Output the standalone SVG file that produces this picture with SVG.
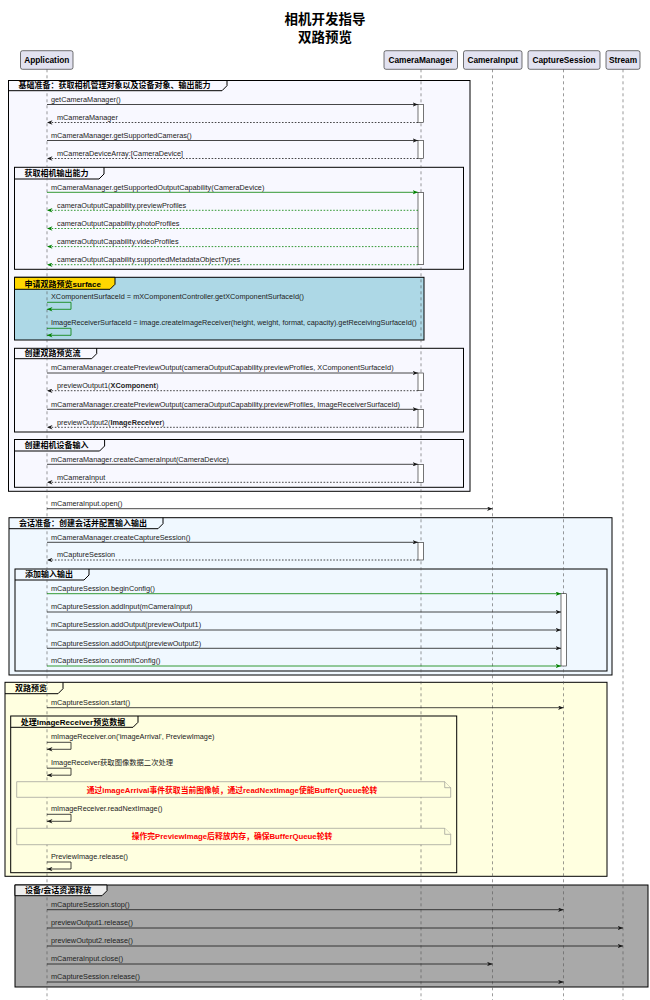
<svg xmlns="http://www.w3.org/2000/svg" width="650" height="1000" viewBox="0 0 650 1000">
<defs>
<style>
.bg{fill:#ffffff}
.title{font-family:"Noto Sans CJK SC","Liberation Sans",sans-serif;font-weight:bold;font-size:13.5px;fill:#000;text-anchor:middle}
.pbox{fill:#E2E2F0;stroke:#181818;stroke-width:0.6}
.ptxt{font-family:"Liberation Sans","Noto Sans CJK SC",sans-serif;font-weight:bold;font-size:8.3px;fill:#000;text-anchor:middle}
.life{stroke:#555;stroke-width:0.6;stroke-dasharray:3,3;fill:none}
.frame{stroke:#000;stroke-width:1;}
.tab{fill:none;stroke:#000;stroke-width:1}
.ftxt{font-family:"Liberation Sans","Noto Sans CJK SC",sans-serif;font-weight:bold;font-size:8px;fill:#000}
.act{fill:#fff;stroke:#181818;stroke-width:0.6}
.m{font-family:"Liberation Sans","Noto Sans CJK SC",sans-serif;font-size:7.3px;fill:#222}
.call{stroke:#181818;stroke-width:0.8;fill:none;marker-end:url(#ah)}
.ret{stroke:#181818;stroke-width:0.8;fill:none;stroke-dasharray:1.6,1.6;marker-end:url(#ah)}
.gcall{stroke:#008000;stroke-width:0.8;fill:none;marker-end:url(#ahg)}
.gret{stroke:#008000;stroke-width:0.8;fill:none;stroke-dasharray:1.6,1.6;marker-end:url(#ahg)}
.note{fill:#FEFFDD;stroke:#888;stroke-width:0.6}
.ntxt{font-family:"Liberation Sans","Noto Sans CJK SC",sans-serif;font-weight:bold;font-size:7.8px;fill:#FF0000;text-anchor:middle}
</style>
<marker id="ah" viewBox="0 0 10 8" refX="10" refY="4" markerWidth="5.5" markerHeight="4.4" markerUnits="userSpaceOnUse" orient="auto">
<path d="M0,0 L10,4 L0,8 L3,4 Z" fill="#181818"/>
</marker>
<marker id="ahg" viewBox="0 0 10 8" refX="10" refY="4" markerWidth="5.5" markerHeight="4.4" markerUnits="userSpaceOnUse" orient="auto">
<path d="M0,0 L10,4 L0,8 L3,4 Z" fill="#008000"/>
</marker>
</defs>
<rect class="bg" x="0" y="0" width="650" height="1000"/>

<g id="title">
<text class="title" x="325" y="24">相机开发指导</text>
<text class="title" x="325" y="42">双路预览</text>
</g>

<g id="frames">
<g id="frame-basic">
<rect class="frame" x="8.5" y="80.5" width="461.5" height="410.8" fill="#F8F8FF"/>
<path class="tab" d="M8.5,90.7 H222 L227,85.7 V80.5"/>
<text class="ftxt" x="18.5" y="87.9">基础准备：获取相机管理对象以及设备对象、输出能力</text>
</g>
<g id="frame-output-capability">
<rect class="frame" x="14.5" y="167.3" width="449" height="102" fill="#F8F8FF"/>
<path class="tab" d="M14.5,179 H99 L104,174 V167.3"/>
<text class="ftxt" x="24.5" y="176.2">获取相机输出能力</text>
</g>
<g id="frame-surface">
<rect class="frame" x="14.5" y="277.3" width="409.5" height="62.7" fill="#ADD8E6"/>
<path d="M14.5,277.3 H115 V284.3 L110,289.3 H14.5 Z" fill="#FFD700" stroke="#000" stroke-width="1"/>
<text class="ftxt" x="24.5" y="286.5">申请双路预览surface</text>
</g>
<g id="frame-preview-stream">
<rect class="frame" x="14.5" y="348.3" width="449" height="83.7" fill="#F8F8FF"/>
<path class="tab" d="M14.5,358.7 H91.7 L96.7,353.7 V348.3"/>
<text class="ftxt" x="24.5" y="356.3">创建双路预览流</text>
</g>
<g id="frame-camera-input">
<rect class="frame" x="14.5" y="439.5" width="449" height="47.8" fill="#F8F8FF"/>
<path class="tab" d="M14.5,451 H99.6 L104.6,446 V439.5"/>
<text class="ftxt" x="24.5" y="448.2">创建相机设备输入</text>
</g>
<g id="frame-session">
<rect class="frame" x="9" y="517.7" width="603" height="157.3" fill="#F0F8FF"/>
<path class="tab" d="M9,528.7 H158 L163,523.7 V517.7"/>
<text class="ftxt" x="19" y="525.9">会话准备：创建会话并配置输入输出</text>
</g>
<g id="frame-add-io">
<rect class="frame" x="15" y="569" width="592" height="102" fill="#F0F8FF"/>
<path class="tab" d="M15,580 H84 L89,575 V569"/>
<text class="ftxt" x="25" y="577.2">添加输入输出</text>
</g>
<g id="frame-dual-preview">
<rect class="frame" x="5" y="682.3" width="602" height="194" fill="#FFFFE0"/>
<path class="tab" d="M5,693.7 H58 L63,688.7 V682.3"/>
<text class="ftxt" x="15" y="690.9">双路预览</text>
</g>
<g id="frame-image-receiver">
<rect class="frame" x="10.7" y="716" width="446" height="156.7" fill="#FFFFE0"/>
<path class="tab" d="M10.7,727.3 H133 L138,722.3 V716"/>
<text class="ftxt" x="20.7" y="724.5">处理ImageReceiver预览数据</text>
</g>
<g id="frame-release">
<rect class="frame" x="15" y="885" width="633" height="102" fill="#A9A9A9"/>
<path d="M15,885 H107 V890.7 L102,895.7 H15 Z" fill="#EEEEEE" stroke="#000" stroke-width="1"/>
<text class="ftxt" x="25" y="892.9">设备/会话资源释放</text>
</g>
</g>

<g id="lifelines">
<line class="life" x1="47" y1="69.3" x2="47" y2="1000"/>
<line class="life" x1="421" y1="69.3" x2="421" y2="1000"/>
<line class="life" x1="492.5" y1="69.3" x2="492.5" y2="1000"/>
<line class="life" x1="563.5" y1="69.3" x2="563.5" y2="1000"/>
<line class="life" x1="623" y1="69.3" x2="623" y2="1000"/>
</g>

<g id="participants">
<g id="Application"><rect class="pbox" x="20.5" y="50.7" width="52.5" height="18.6" rx="2"/><text class="ptxt" x="46.75" y="63">Application</text></g>
<g id="CameraManager"><rect class="pbox" x="384" y="50.7" width="73.5" height="18.6" rx="2"/><text class="ptxt" x="420.75" y="63">CameraManager</text></g>
<g id="CameraInput"><rect class="pbox" x="463.5" y="50.7" width="58.5" height="18.6" rx="2"/><text class="ptxt" x="492.75" y="63">CameraInput</text></g>
<g id="CaptureSession"><rect class="pbox" x="528" y="50.7" width="72" height="18.6" rx="2"/><text class="ptxt" x="564" y="63">CaptureSession</text></g>
<g id="Stream"><rect class="pbox" x="606" y="50.7" width="34" height="18.6" rx="2"/><text class="ptxt" x="623" y="63">Stream</text></g>
</g>

<g id="activations">
<rect class="act" x="418" y="104.5" width="5.5" height="18"/>
<rect class="act" x="418" y="140.5" width="5.5" height="18"/>
<rect class="act" x="418" y="192.3" width="5.5" height="72.4"/>
<rect class="act" x="418" y="373" width="5.5" height="17.7"/>
<rect class="act" x="418" y="409.3" width="5.5" height="18"/>
<rect class="act" x="418" y="464.3" width="5.5" height="18"/>
<rect class="act" x="418" y="542.3" width="5.5" height="17.7"/>
<rect class="act" x="561" y="593.7" width="5.5" height="72.3"/>
</g>

<g id="connectors">
<path class="call" d="M47,104.5 H418"/>
<text class="m" x="51" y="101.7">getCameraManager()</text>
<path class="ret" d="M418,122.5 H47"/>
<text class="m" x="57" y="119.7">mCameraManager</text>
<path class="call" d="M47,140.5 H418"/>
<text class="m" x="51" y="137.7">mCameraManager.getSupportedCameras()</text>
<path class="ret" d="M418,158.5 H47"/>
<text class="m" x="57" y="155.7">mCameraDeviceArray:[CameraDevice]</text>

<path class="gcall" d="M47,192.3 H418"/>
<text class="m" x="51" y="189.5">mCameraManager.getSupportedOutputCapability(CameraDevice)</text>
<path class="gret" d="M418,210.3 H47"/>
<text class="m" x="57" y="207.5">cameraOutputCapability.previewProfiles</text>
<path class="gret" d="M418,228.5 H47"/>
<text class="m" x="57" y="225.7">cameraOutputCapability.photoProfiles</text>
<path class="gret" d="M418,246.6 H47"/>
<text class="m" x="57" y="243.8">cameraOutputCapability.videoProfiles</text>
<path class="gret" d="M418,264.7 H47"/>
<text class="m" x="57" y="261.9">cameraOutputCapability.supportedMetadataObjectTypes</text>

<path class="gcall" d="M47,302.3 H71 V309.3 H47"/>
<text class="m" x="51" y="299.3">XComponentSurfaceId = mXComponentController.getXComponentSurfaceId()</text>
<path class="gcall" d="M47,328.3 H71 V335.3 H47"/>
<text class="m" x="51" y="325.3">ImageReceiverSurfaceId = image.createImageReceiver(height, weight, format, capacity).getReceivingSurfaceId()</text>

<path class="call" d="M47,373 H418"/>
<text class="m" x="51" y="370.2">mCameraManager.createPreviewOutput(cameraOutputCapability.previewProfiles, XComponentSurfaceId)</text>
<path class="ret" d="M418,390.7 H47"/>
<text class="m" x="57" y="387.9">previewOutput1(<tspan font-weight="bold">XComponent</tspan>)</text>
<path class="call" d="M47,409.3 H418"/>
<text class="m" x="51" y="406.5">mCameraManager.createPreviewOutput(cameraOutputCapability.previewProfiles, ImageReceiverSurfaceId)</text>
<path class="ret" d="M418,427.3 H47"/>
<text class="m" x="57" y="424.5">previewOutput2(<tspan font-weight="bold">ImageReceiver</tspan>)</text>

<path class="call" d="M47,464.3 H418"/>
<text class="m" x="51" y="461.5">mCameraManager.createCameraInput(CameraDevice)</text>
<path class="ret" d="M418,482.3 H47"/>
<text class="m" x="57" y="479.5">mCameraInput</text>

<path class="call" d="M47,508.7 H492.5"/>
<text class="m" x="51" y="505.9">mCameraInput.open()</text>

<path class="call" d="M47,542.3 H418"/>
<text class="m" x="51" y="539.5">mCameraManager.createCaptureSession()</text>
<path class="ret" d="M418,560 H47"/>
<text class="m" x="57" y="557.2">mCaptureSession</text>

<path class="gcall" d="M47,593.7 H561"/>
<text class="m" x="51" y="590.9">mCaptureSession.beginConfig()</text>
<path class="call" d="M47,612 H561"/>
<text class="m" x="51" y="609.2">mCaptureSession.addInput(mCameraInput)</text>
<path class="call" d="M47,630 H561"/>
<text class="m" x="51" y="627.2">mCaptureSession.addOutput(previewOutput1)</text>
<path class="call" d="M47,648.3 H561"/>
<text class="m" x="51" y="645.5">mCaptureSession.addOutput(previewOutput2)</text>
<path class="gcall" d="M47,666 H561"/>
<text class="m" x="51" y="663.2">mCaptureSession.commitConfig()</text>

<path class="call" d="M47,707.7 H563.5"/>
<text class="m" x="51" y="704.9">mCaptureSession.start()</text>

<path class="call" d="M47,742.3 H71 V749.3 H47"/>
<text class="m" x="51" y="738.9">mImageReceiver.on('imageArrival', PreviewImage)</text>
<path class="call" d="M47,768.2 H71 V775.2 H47"/>
<text class="m" x="51" y="764.8">ImageReceiver获取图像数据二次处理</text>
<path class="call" d="M47,814.3 H71 V821.3 H47"/>
<text class="m" x="51" y="810.9">mImageReceiver.readNextImage()</text>
<path class="call" d="M47,862 H71 V869 H47"/>
<text class="m" x="51" y="858.6">PreviewImage.release()</text>

<path class="call" d="M47,909.7 H563.5"/>
<text class="m" x="51" y="906.9">mCaptureSession.stop()</text>
<path class="call" d="M47,928 H623"/>
<text class="m" x="51" y="925.2">previewOutput1.release()</text>
<path class="call" d="M47,946 H623"/>
<text class="m" x="51" y="943.2">previewOutput2.release()</text>
<path class="call" d="M47,964 H492.5"/>
<text class="m" x="51" y="961.2">mCameraInput.close()</text>
<path class="call" d="M47,982 H563.5"/>
<text class="m" x="51" y="979.2">mCaptureSession.release()</text>
</g>

<g id="notes">
<g id="note1">
<path class="note" d="M16.7,781.7 H444.7 L450.7,787.7 V797.3 H16.7 Z"/>
<path class="note" d="M444.7,781.7 V787.7 H450.7"/>
<text class="ntxt" x="232" y="793.4">通过imageArrival事件获取当前图像帧，通过readNextImage使能BufferQueue轮转</text>
</g>
<g id="note2">
<path class="note" d="M16.7,828.3 H444.7 L450.7,834.3 V844.7 H16.7 Z"/>
<path class="note" d="M444.7,828.3 V834.3 H450.7"/>
<text class="ntxt" x="232" y="839.4">操作完PreviewImage后释放内存，确保BufferQueue轮转</text>
</g>
</g>
</svg>
